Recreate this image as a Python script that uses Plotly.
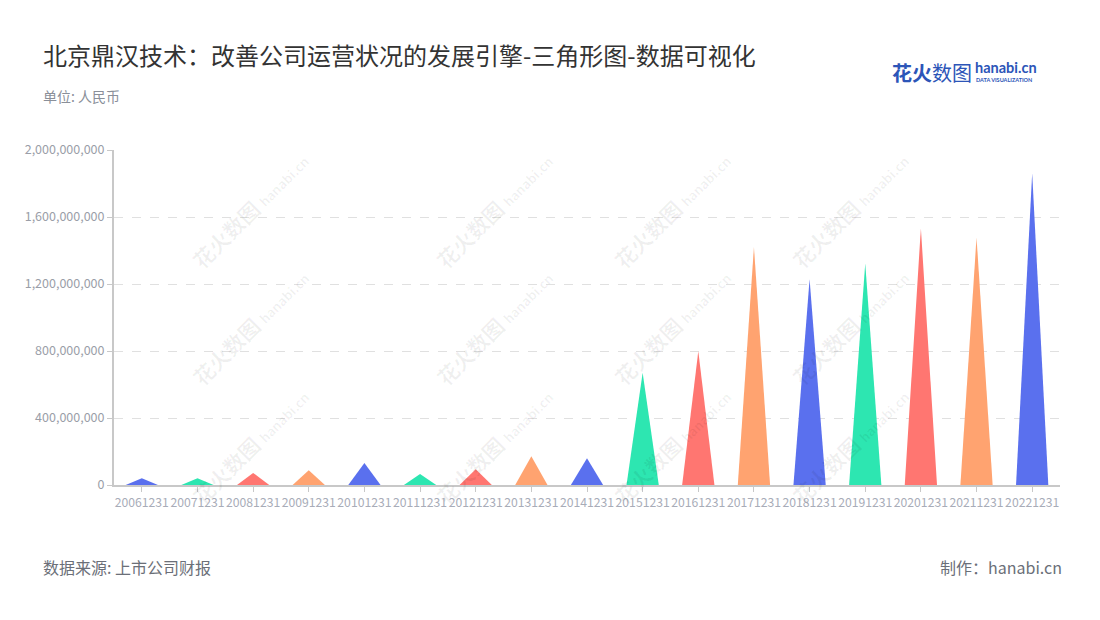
import plotly.graph_objects as go

# ---- data ----
categories = ["20061231", "20071231", "20081231", "20091231", "20101231", "20111231",
              "20121231", "20131231", "20141231", "20151231", "20161231", "20171231",
              "20181231", "20191231", "20201231", "20211231", "20221231"]
values = [40e6, 40e6, 72e6, 88e6, 131e6, 66e6, 94e6, 171e6, 159e6,
          670e6, 799e6, 1421e6, 1228e6, 1322e6, 1531e6, 1478e6, 1861e6]
palette = ["#5A70EE", "#2DE6B1", "#FF7671", "#FFA370"]
y_ticks = [0, 400e6, 800e6, 1200e6, 1600e6, 2000e6]

title_text = "北京鼎汉技术：改善公司运营状况的发展引擎-三角形图-数据可视化"
unit_text = "单位: 人民币"
source_text = "数据来源: 上市公司财报"
maker_text = "制作：hanabi.cn"

FONT = "Noto Sans CJK SC, Noto Sans, sans-serif"
OFF = 8  # page body margin
W, H = 1100, 620
L, R, T, B = 114 - OFF, 48, 150 - OFF, 143
PW, PH = W - L - R, H - T - B


def px(x):
    return (x - OFF - L) / PW


def py(y):
    return (H - B - (y - OFF)) / PH


fig = go.Figure()
half = 0.29
for i, (c, v) in enumerate(zip(categories, values)):
    fig.add_trace(go.Scatter(
        x=[i - half, i, i + half, i - half],
        y=[0, v, 0, 0],
        mode="lines", fill="toself",
        line=dict(width=0, color=palette[i % 4]),
        fillcolor=palette[i % 4],
        name=c, hoverinfo="text", text=f"{c}: {v:,.0f}",
        showlegend=False,
    ))

annotations = []
# watermarks
for wx in [183, 427, 672, 917]:
    for wy in [143, 327, 513]:
        annotations.append(dict(
            x=px(wx), y=py(wy), xref="paper", yref="paper",
            text="<b>花火数图</b> <b><span style='font-size:13px'>hanabi.cn</span></b>",
            showarrow=False, textangle=-45,
            font=dict(family=FONT, size=21, color="rgba(0,0,0,0.06)"),
        ))

annotations += [
    dict(x=px(43), y=py(96), xref="paper", yref="paper", text=unit_text,
         showarrow=False, xanchor="left", yanchor="middle", xshift=-2,
         font=dict(family=FONT, size=14, color="#8a8f99")),
    dict(x=px(43), y=py(567), xref="paper", yref="paper", text=source_text,
         showarrow=False, xanchor="left", yanchor="middle", xshift=-2,
         font=dict(family=FONT, size=16, color="#6b6f78")),
    dict(x=px(1062), y=py(567), xref="paper", yref="paper", text=maker_text,
         showarrow=False, xanchor="right", yanchor="middle", xshift=2,
         font=dict(family=FONT, size=16, color="#6b6f78")),
    # logo
    dict(x=px(892), y=py(72), xref="paper", yref="paper", text="<b>花火</b>数图",
         showarrow=False, xanchor="left", yanchor="middle", xshift=-2,
         font=dict(family=FONT, size=20, color="#2C55B8")),
    dict(x=px(974), y=py(68), xref="paper", yref="paper", text="<b>hanabi.cn</b>",
         showarrow=False, xanchor="left", yanchor="middle", xshift=-1,
         font=dict(family="Lato, sans-serif", size=14.5, color="#2C55B8")),
    dict(x=px(975), y=py(80), xref="paper", yref="paper", text="<b>DATA VISUALIZATION</b>",
         showarrow=False, xanchor="left", yanchor="middle", xshift=-1,
         font=dict(family="Lato, sans-serif", size=5.5, color="#2C55B8")),
]

fig.update_layout(
    width=W, height=H,
    margin=dict(l=L, r=R, t=T, b=B),
    paper_bgcolor="white", plot_bgcolor="white",
    title=dict(text=title_text, x=(43 - OFF) / W, xref="container", xanchor="left",
               y=1 - (57 - OFF) / H, yref="container", yanchor="middle",
               font=dict(family=FONT, size=24, color="#333333")),
    xaxis=dict(
        range=[-0.5, len(categories) - 0.5],
        tickmode="array", tickvals=list(range(len(categories))), ticktext=categories,
        tickangle=0,
        showgrid=False, zeroline=False,
        showline=True, linecolor="#c8c8c8", linewidth=2,
        ticks="outside", ticklen=5, tickcolor="#c8c8c8",
        tickfont=dict(family=FONT, size=12.2, color="#a8acb8"),
        fixedrange=True,
    ),
    yaxis=dict(
        range=[0, 2000e6],
        tickmode="array", tickvals=y_ticks,
        ticktext=[f"{int(t):,}" for t in y_ticks],
        showgrid=True, gridcolor="#e0e0e0", griddash="dash", gridwidth=1,
        zeroline=False,
        showline=True, linecolor="#c8c8c8", linewidth=2,
        ticks="outside", ticklen=5, tickcolor="#c8c8c8",
        tickfont=dict(family=FONT, size=12.5, color="#9a9ea8"),
        fixedrange=True,
    ),
    annotations=annotations,
)

fig.write_html("out.html")
